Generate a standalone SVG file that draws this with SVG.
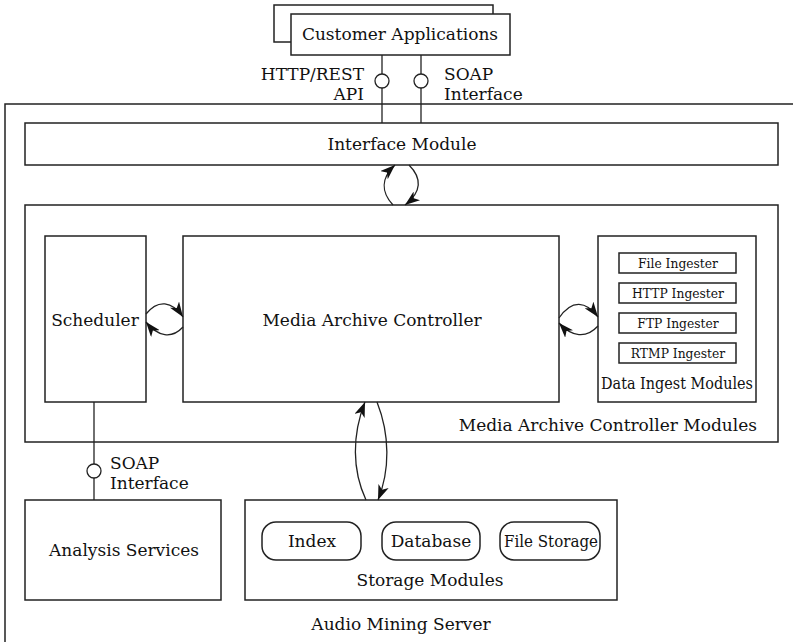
<svg xmlns="http://www.w3.org/2000/svg" width="793" height="642" viewBox="0 0 793 642">
<defs>
<style>
.box{fill:#fff;stroke:#222;stroke-width:1.5}
.ln{fill:none;stroke:#222;stroke-width:1.3}
.t{font-family:"DejaVu Serif","Liberation Serif",serif;font-size:17px;fill:#111}
.s{font-family:"DejaVu Serif","Liberation Serif",serif;font-size:12.3px;fill:#111}
.c{text-anchor:middle}
.r{text-anchor:end}
</style>
<marker id="ah" viewBox="0 0 15 11" refX="15" refY="5.5" markerWidth="15" markerHeight="11" markerUnits="userSpaceOnUse" orient="auto">
<path d="M0,0 L15,5.5 L0,11 L4,5.5 z" fill="#111"/>
</marker>
</defs>
<rect width="793" height="642" fill="#fff"/>
<g id="audio-mining-server">
<rect class="box" x="5" y="104" width="820" height="560"/>
<text class="t c" x="401" y="630">Audio Mining Server</text>
</g>
<g id="customer-applications">
<rect class="box" x="274" y="5" width="219" height="37"/>
<rect class="box" x="291" y="14" width="219" height="41"/>
<text class="t c" x="400" y="40">Customer Applications</text>
</g>
<g id="interface-module">
<rect class="box" x="25" y="123" width="753" height="42"/>
<text class="t c" x="402" y="150">Interface Module</text>
</g>
<g id="mac-modules">
<rect class="box" x="25" y="205" width="753" height="237"/>
<text class="t r" x="757" y="431">Media Archive Controller Modules</text>
</g>
<g id="scheduler">
<rect class="box" x="45" y="236" width="101" height="166"/>
<text class="t c" x="95" y="326">Scheduler</text>
</g>
<g id="media-archive-controller">
<rect class="box" x="183" y="236" width="376" height="166"/>
<text class="t c" x="372" y="326">Media Archive Controller</text>
</g>
<g id="data-ingest-modules">
<rect class="box" x="598" y="236" width="158" height="166"/>
<text class="t c" x="677" y="389" textLength="152" lengthAdjust="spacingAndGlyphs">Data Ingest Modules</text>
</g>
<g id="file-ingester">
<rect class="box" x="619" y="253" width="117" height="20"/>
<text class="s c" x="678" y="268">File Ingester</text>
</g>
<g id="http-ingester">
<rect class="box" x="619" y="283" width="117" height="20"/>
<text class="s c" x="678" y="298">HTTP Ingester</text>
</g>
<g id="ftp-ingester">
<rect class="box" x="619" y="313" width="117" height="20"/>
<text class="s c" x="678" y="328">FTP Ingester</text>
</g>
<g id="rtmp-ingester">
<rect class="box" x="619" y="343" width="117" height="20"/>
<text class="s c" x="678" y="358">RTMP Ingester</text>
</g>
<g id="analysis-services">
<rect class="box" x="25" y="500" width="196" height="100"/>
<text class="t c" x="124" y="556">Analysis Services</text>
</g>
<g id="storage-modules">
<rect class="box" x="245" y="500" width="372" height="100"/>
<text class="t c" x="430" y="586">Storage Modules</text>
</g>
<g id="index">
<rect class="box" x="262" y="522" width="99" height="38" rx="14"/>
<text class="t c" x="312" y="547">Index</text>
</g>
<g id="database">
<rect class="box" x="382" y="522" width="98" height="38" rx="14"/>
<text class="t c" x="431" y="547">Database</text>
</g>
<g id="file-storage">
<rect class="box" x="500" y="522" width="100" height="38" rx="14"/>
<text class="t c" x="551" y="547" textLength="94" lengthAdjust="spacingAndGlyphs">File Storage</text>
</g>
<g id="connectors">
<line class="ln" x1="382" y1="55" x2="382" y2="74"/>
<line class="ln" x1="382" y1="88" x2="382" y2="123"/>
<circle class="ln" cx="382" cy="81" r="7" fill="#fff"/>
<line class="ln" x1="421" y1="55" x2="421" y2="74"/>
<line class="ln" x1="421" y1="88" x2="421" y2="123"/>
<circle class="ln" cx="421" cy="81" r="7" fill="#fff"/>
<text class="t r" x="364" y="80">HTTP/REST</text>
<text class="t r" x="364" y="100">API</text>
<text class="t" x="444" y="80">SOAP</text>
<text class="t" x="444" y="100">Interface</text>
<line class="ln" x1="94" y1="402" x2="94" y2="464"/>
<line class="ln" x1="94" y1="478" x2="94" y2="500"/>
<circle class="ln" cx="94" cy="471" r="7" fill="#fff"/>
<text class="t" x="110" y="469">SOAP</text>
<text class="t" x="110" y="489">Interface</text>
<path class="ln" d="M393,205 C381,192 381,178 395,165" marker-end="url(#ah)"/>
<path class="ln" d="M409,165 C422,178 422,192 405,205" marker-end="url(#ah)"/>
<path class="ln" d="M146,314 C158,299 172,301 183,317" marker-end="url(#ah)"/>
<path class="ln" d="M183,327 C172,339 158,337 146,322" marker-end="url(#ah)"/>
<path class="ln" d="M559,318 C572,299 586,301 598,317" marker-end="url(#ah)"/>
<path class="ln" d="M598,326 C586,339 572,337 559,323" marker-end="url(#ah)"/>
<path class="ln" d="M366,500 C352,470 352,435 365,402" marker-end="url(#ah)"/>
<path class="ln" d="M377,402 C390,435 390,470 378,500" marker-end="url(#ah)"/>
</g>
</svg>
